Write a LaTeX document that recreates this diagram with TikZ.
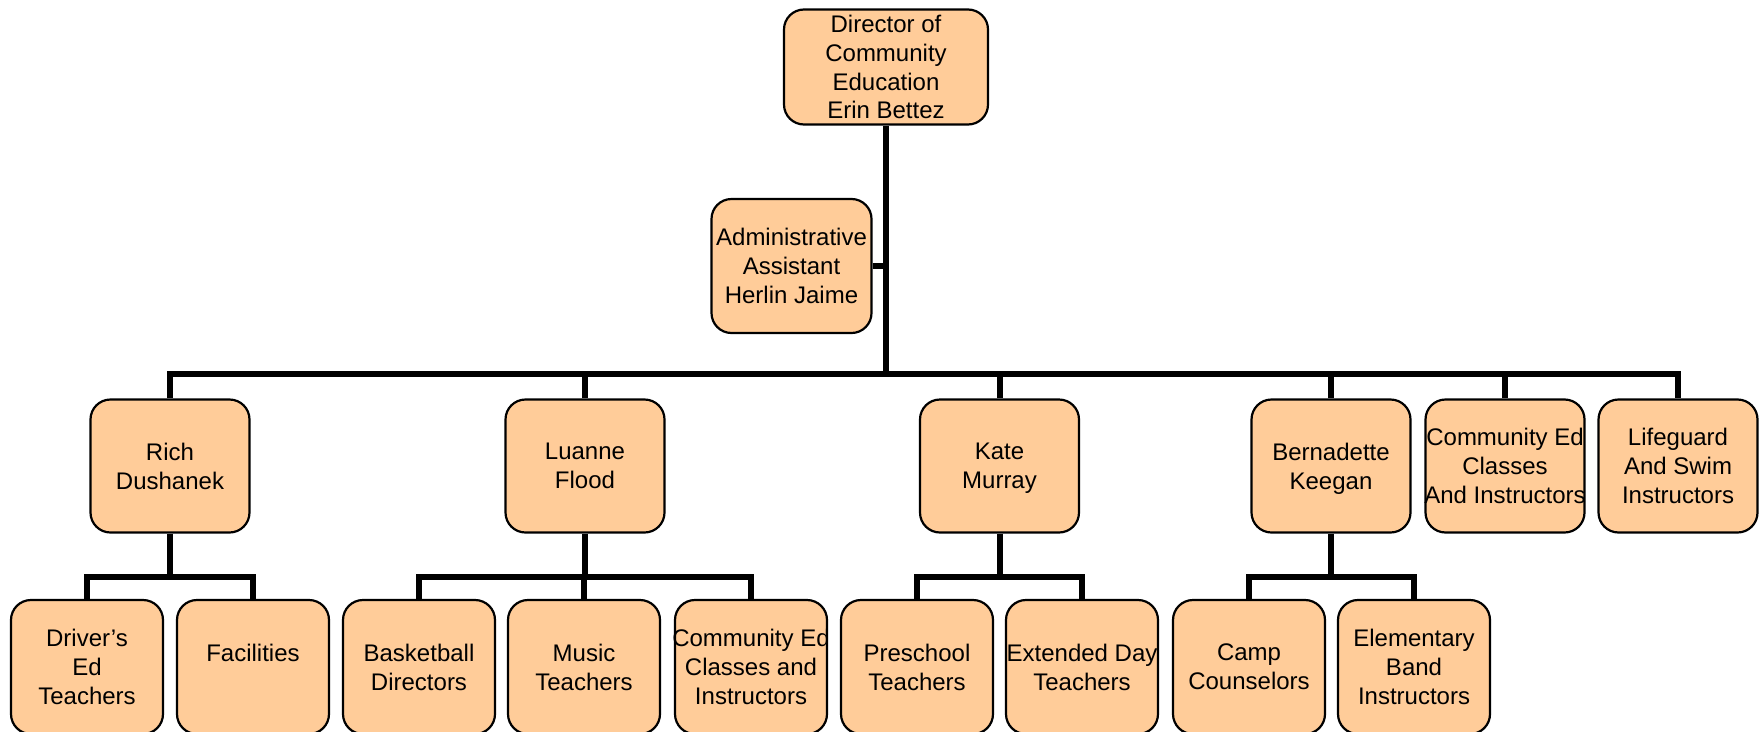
\documentclass[tikz,border=0pt]{standalone}
\usepackage{fontspec}
\setmainfont{Liberation Sans}
\definecolor{peach}{HTML}{FFCC99}
\begin{document}
\begin{tikzpicture}[x=1pt,y=-1pt,
  box/.style={draw=black, line width=2.2pt, fill=peach, rounded corners=20pt, inner sep=0pt},
  lvtwo/.style={box, minimum width=159pt, minimum height=133pt},
  lvthree/.style={box, minimum width=152pt, minimum height=134pt},
  txt/.style={align=center, inner sep=0pt, text depth=0pt, font=\fontsize{24}{28.8}\selectfont},
  conn/.style={draw=black, line width=6pt, line join=miter}]
\useasboundingbox (0,0) rectangle (1763,731);
\clip (0,0) rectangle (1763,731);
\coordinate (bus) at (0,374);
\coordinate (sb) at (0,577);
\node[box, minimum width=204pt, minimum height=115pt, label={[txt]center:Director of\\Community\\Education\\Erin Bettez}] (dir) at (886,67) {};
\node[box, minimum width=160pt, minimum height=134pt, label={[txt]center:Administrative\\Assistant\\Herlin Jaime}] (adm) at (791.5,266) {};
\node[lvtwo, label={[txt]center:Rich\\Dushanek}] (rich) at (170,466) {};
\node[lvtwo, label={[txt]center:Luanne\\Flood}] (lua) at (585,466) {};
\node[lvtwo, label={[txt]center:Kate\\Murray}] (kate) at (999.5,466) {};
\node[lvtwo, label={[txt]center:Bernadette\\Keegan}] (bern) at (1331,466) {};
\node[lvtwo, label={[txt]center:Community Ed\\Classes\\And Instructors}] (ced) at (1505,466) {};
\node[lvtwo, label={[txt]center:Lifeguard\\And Swim\\Instructors}] (life) at (1678,466) {};
\node[lvthree, label={[txt]center:Driver’s\\Ed\\Teachers}] (drv) at (87,667) {};
\node[lvthree, label={[txt,yshift=14pt]center:Facilities}] (fac) at (253,667) {};
\node[lvthree, label={[txt]center:Basketball\\Directors}] (bask) at (419,667) {};
\node[lvthree, label={[txt]center:Music\\Teachers}] (mus) at (584,667) {};
\node[lvthree, label={[txt]center:Community Ed\\Classes and\\Instructors}] (ced2) at (751,667) {};
\node[lvthree, label={[txt]center:Preschool\\Teachers}] (pre) at (917,667) {};
\node[lvthree, label={[txt]center:Extended Day\\Teachers}] (ext) at (1082,667) {};
\node[lvthree, label={[txt]center:Camp\\Counselors}] (camp) at (1249,667) {};
\node[lvthree, label={[txt]center:Elementary\\Band\\Instructors}] (band) at (1414,667) {};
% main trunk and bus
\draw[conn] (dir.south) -- (dir.south |- bus);
\draw[conn] (adm.east) -- (adm.east -| dir.south);
\draw[conn] (rich.north) -- (rich.north |- bus) -- (life.north |- bus) -- (life.north);
\foreach \n in {lua,kate,bern,ced} \draw[conn] (\n.north) -- (\n.north |- bus);
% sub-buses
\draw[conn] (rich.south) -- (rich.south |- sb);
\draw[conn] (drv.north) -- (drv.north |- sb) -- (fac.north |- sb) -- (fac.north);
\draw[conn] (lua.south) -- (lua.south |- sb);
\draw[conn] (bask.north) -- (bask.north |- sb) -- (ced2.north |- sb) -- (ced2.north);
\draw[conn] (mus.north) -- (mus.north |- sb);
\draw[conn] (kate.south) -- (kate.south |- sb);
\draw[conn] (pre.north) -- (pre.north |- sb) -- (ext.north |- sb) -- (ext.north);
\draw[conn] (bern.south) -- (bern.south |- sb);
\draw[conn] (camp.north) -- (camp.north |- sb) -- (band.north |- sb) -- (band.north);
\end{tikzpicture}
\end{document}
